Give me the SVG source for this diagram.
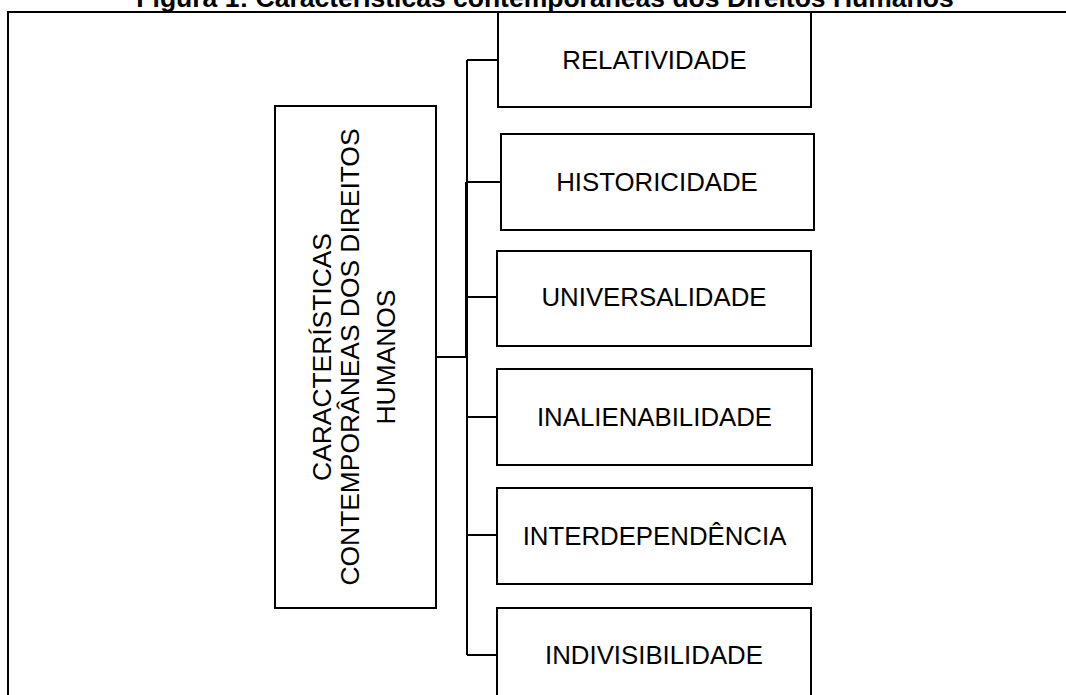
<svg xmlns="http://www.w3.org/2000/svg" width="1066" height="695" viewBox="0 0 1066 695">
  <style>
    .box { fill: #ffffff; stroke: #000000; stroke-width: 2; }
    .frame { fill: none; stroke: #000000; stroke-width: 2; }
    .link { fill: none; stroke: #000000; stroke-width: 2; }
    .label { font-family: "Liberation Sans", Arial, sans-serif; font-size: 25.8px; fill: #000000; text-anchor: middle; }
    .vlabel { font-family: "Liberation Sans", Arial, sans-serif; font-size: 26.4px; fill: #000000; text-anchor: middle; }
    .title { font-family: "Liberation Sans", Arial, sans-serif; font-size: 26.5px; font-weight: bold; fill: #000000; text-anchor: middle; }
  </style>
  <rect width="1066" height="695" fill="#ffffff"/>

  <!-- caption -->
  <text class="title" x="545" y="7">Figura 1: Características contemporâneas dos Direitos Humanos</text>

  <!-- frame -->
  <path class="frame" d="M8,695 V12 H1066"/>

  <!-- connectors -->
  <g id="connectors">
    <path class="link" d="M436,357 H467"/>
    <path class="link" d="M467,60 V655"/>
    <path class="link" d="M466,182 V357" stroke-width="3"/>
    <path class="link" d="M467,60 H498"/>
    <path class="link" d="M467,182 H501"/>
    <path class="link" d="M467,297 H497"/>
    <path class="link" d="M467,417 H497"/>
    <path class="link" d="M467,535 H497"/>
    <path class="link" d="M467,655 H497"/>
  </g>

  <!-- central node -->
  <g id="node-caracteristicas">
    <rect class="box" x="275" y="106" width="161" height="502"/>
    <text class="vlabel" transform="translate(331,357) rotate(-90)">CARACTERÍSTICAS</text>
    <text class="vlabel" transform="translate(359,357) rotate(-90)">CONTEMPORÂNEAS DOS DIREITOS</text>
    <text class="vlabel" transform="translate(395,357) rotate(-90)">HUMANOS</text>
  </g>

  <g id="node-relatividade">
    <rect class="box" x="498" y="12" width="313" height="95"/>
    <text class="label" x="654.5" y="68.5">RELATIVIDADE</text>
  </g>

  <g id="node-historicidade">
    <rect class="box" x="501" y="134" width="313" height="96"/>
    <text class="label" x="657" y="191">HISTORICIDADE</text>
  </g>

  <g id="node-universalidade">
    <rect class="box" x="497" y="251" width="314" height="95"/>
    <text class="label" x="654" y="306">UNIVERSALIDADE</text>
  </g>

  <g id="node-inalienabilidade">
    <rect class="box" x="497" y="369" width="315" height="96"/>
    <text class="label" x="654.5" y="426">INALIENABILIDADE</text>
  </g>

  <g id="node-interdependencia">
    <rect class="box" x="497" y="488" width="315" height="96"/>
    <text class="label" x="654.5" y="545">INTERDEPENDÊNCIA</text>
  </g>

  <g id="node-indivisibilidade">
    <rect class="box" x="497" y="608" width="314" height="100"/>
    <text class="label" x="654" y="664">INDIVISIBILIDADE</text>
  </g>
</svg>
